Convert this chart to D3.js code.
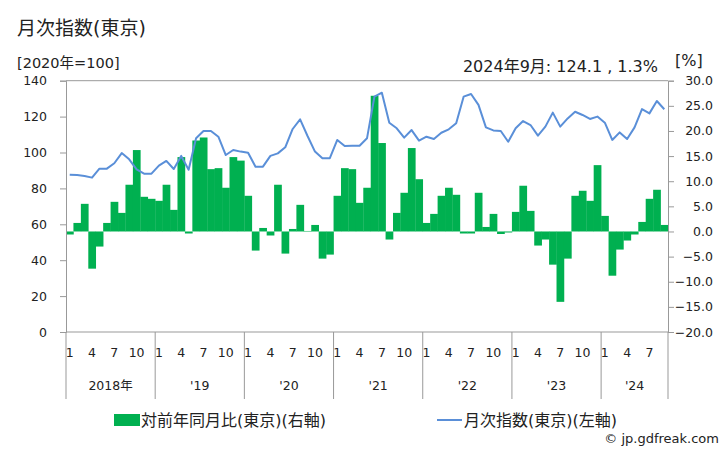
<!DOCTYPE html>
<html><head><meta charset="utf-8">
<script src="https://cdn.jsdelivr.net/npm/d3@7"></script>
<style>
body{margin:0;background:#fff;}
svg{display:block;}
text{font-family:"DejaVu Sans","Noto Sans CJK JP",sans-serif;fill:#222;}
</style></head>
<body>
<script>
const years = ["2018年","'19","'20","'21","'22","'23","'24"];
const monthTicks = [1,4,7,10];
const indexValues = [
 87.6,87.4,86.9,86.0,91.0,91.0,94.0,99.7,96.2,90.6,88.2,88.2,
 92.7,95.3,90.8,98.1,90.4,107.9,112.0,112.0,108.8,98.6,101.4,100.5,
 99.9,92.1,92.1,98.1,99.5,102.9,113.1,118.5,109.2,100.5,96.8,96.8,
 107.0,103.6,103.8,103.8,107.9,131.1,133.3,116.6,113.5,108.3,112.5,106.6,
 108.8,107.5,111.0,112.9,116.3,131.1,132.6,126.5,114.0,112.3,112.0,106.0,
 113.5,117.5,115.3,109.4,114.4,122.2,114.4,119.0,122.7,120.9,118.7,120.0,
 116.6,107.0,111.2,107.5,114.0,124.2,121.8,128.7,124.1
];
const yoyValues = [
 -0.6,1.7,5.5,-7.4,-3.0,1.7,5.9,3.7,9.3,16.2,6.9,6.5,
 6.1,9.3,4.3,14.8,-0.4,18.1,18.7,12.4,12.6,8.7,14.8,14.1,
 7.1,-3.8,0.7,-0.8,9.3,-4.4,0.5,5.3,0.1,1.3,-5.4,-4.6,
 7.1,12.6,12.4,5.7,8.7,27.0,17.6,-1.6,3.7,7.7,16.6,10.4,
 1.7,3.5,7.1,8.7,7.3,-0.4,-0.4,7.7,0.9,3.5,-0.5,-0.2,
 3.9,9.1,4.1,-2.8,-1.6,-6.6,-14.0,-5.4,7.1,8.1,6.1,13.2,
 3.1,-8.8,-3.6,-1.8,-0.6,1.9,6.5,8.3,1.3
];
const leftTicks = [0,20,40,60,80,100,120,140];
const rightTicks = [-20,-15,-10,-5,0,5,10,15,20,25,30];

const W=728,H=450;
const L=66,R=668,T=80.7,B=332;
const grey="#999";
const svg=d3.select("body").append("svg").attr("width",W).attr("height",H);

const n=indexValues.length;
const x=d3.scaleBand().domain(d3.range(n)).range([L,R]).padding(0);
const yL=d3.scaleLinear().domain([0,140]).range([B,T]);
const yR=d3.scaleLinear().domain([-20,30]).range([B,T]);

// bars
svg.append("g").selectAll("rect").data(yoyValues).join("rect")
 .attr("x",(d,i)=>x(i)).attr("width",x.bandwidth()+0.3)
 .attr("y",d=>Math.min(yR(d),yR(0))).attr("height",d=>Math.abs(yR(d)-yR(0)))
 .attr("fill","#00b050");

// frame lines
svg.append("line").attr("x1",L).attr("x2",R).attr("y1",T).attr("y2",T).attr("stroke",grey);
svg.append("line").attr("x1",L).attr("x2",R).attr("y1",B).attr("y2",B).attr("stroke",grey);

// left axis
const gl=svg.append("g").attr("transform",`translate(${L},0)`)
 .call(d3.axisLeft(yL).tickValues(leftTicks).tickSize(6).tickPadding(13).tickFormat(d3.format("d")));
gl.selectAll("path,line").attr("stroke",grey);
gl.selectAll("text").attr("font-size","12.5px").attr("font-family","DejaVu Sans").attr("fill","#222");

// right axis
const gr=svg.append("g").attr("transform",`translate(${R},0)`)
 .call(d3.axisRight(yR).tickValues(rightTicks).tickSize(6).tickFormat(d3.format(".1f")));
gr.selectAll("path,line").attr("stroke",grey);
gr.selectAll("text").attr("font-size","12.5px").attr("font-family","DejaVu Sans").attr("fill","#222")
 .attr("text-anchor","end").attr("x",45);

// line
const line=d3.line().x((d,i)=>x(i)+x.bandwidth()/2).y(d=>yL(d));
svg.append("path").datum(indexValues).attr("d",line).attr("fill","none")
 .attr("stroke","#5a8fd8").attr("stroke-width",2).attr("stroke-linejoin","round");

// category axis
for(let yi=0;yi<=years.length;yi++){
  const idx=Math.min(yi*12,n);
  const xx= idx<n ? x(idx) : R;
  svg.append("line").attr("x1",xx).attr("x2",xx).attr("y1",B).attr("y2",399).attr("stroke",grey);
}
years.forEach((yr,yi)=>{
  const s=yi*12, e=Math.min(yi*12+12,n);
  const cx=(x(s)+ (e<n?x(e):R))/2;
  svg.append("text").attr("x",cx).attr("y",389.5).attr("text-anchor","middle")
   .attr("font-size","12.5px").text(yr);
  monthTicks.forEach(m=>{
    const idx=s+m-1;
    if(idx<n) svg.append("text").attr("x",x(idx)+x.bandwidth()/2).attr("y",357)
      .attr("text-anchor","middle").attr("font-size","12.5px").text(m);
  });
});

// texts
svg.append("text").attr("x",17).attr("y",35).attr("font-size","19px").text("月次指数(東京)");
svg.append("text").attr("x",17).attr("y",68).attr("font-size","14.5px").text("[2020年=100]");
svg.append("text").attr("x",658).attr("y",72).attr("text-anchor","end").attr("font-size","16px").text("2024年9月: 124.1 , 1.3%");
svg.append("text").attr("x",675).attr("y",66).attr("font-size","16px").text("[%]");

// legend
svg.append("rect").attr("x",114).attr("y",414).attr("width",26).attr("height",12).attr("fill","#00b050");
svg.append("text").attr("x",141).attr("y",426).attr("font-size","16px").text("対前年同月比(東京)(右軸)");
svg.append("line").attr("x1",437).attr("x2",462).attr("y1",420).attr("y2",420).attr("stroke","#5a8fd8").attr("stroke-width",2);
svg.append("text").attr("x",464).attr("y",426).attr("font-size","16px").text("月次指数(東京)(左軸)");
svg.append("text").attr("x",719).attr("y",443).attr("text-anchor","end").attr("font-size","13px").text("© jp.gdfreak.com");
</script>
</body></html>
